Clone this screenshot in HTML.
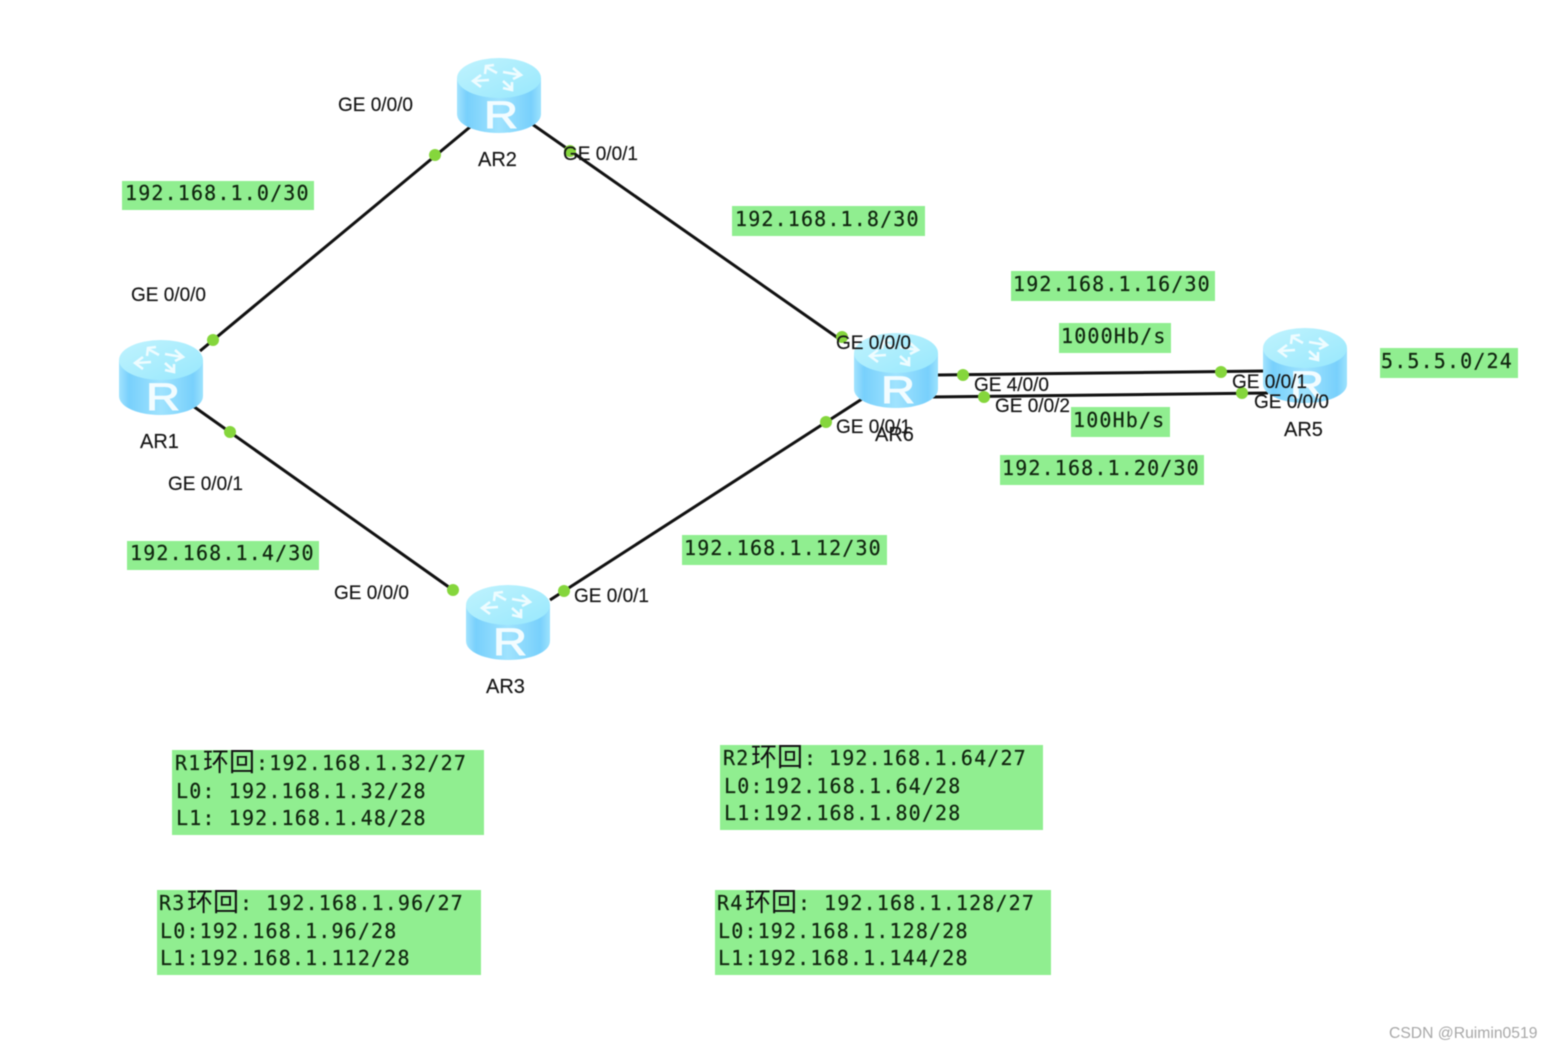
<!DOCTYPE html>
<html><head><meta charset="utf-8">
<style>
html,body{margin:0;padding:0;background:#fff;width:1552px;height:1048px;overflow:hidden}
svg{display:block;filter:blur(.45px)}
.m{font-family:"DejaVu Sans Mono","Liberation Mono",monospace;font-size:20px;letter-spacing:1.15px;fill:#10250f;stroke:#10250f;stroke-width:.2px}
.c{font-family:"Liberation Sans","Noto Sans CJK SC",sans-serif;font-size:26px;font-weight:400;fill:#111}
.l{font-family:"Liberation Sans",Arial,sans-serif;font-size:19px;fill:#151515;stroke:#151515;stroke-width:.15px}
.a{font-family:"Liberation Sans",Arial,sans-serif;font-size:20px;fill:#151515;stroke:#151515;stroke-width:.15px}
.r{font-family:"Liberation Sans",Arial,sans-serif;font-size:38px;fill:#f2fcff;stroke:#f2fcff;stroke-width:1px}
</style></head><body>
<svg width="1552" height="1048" viewBox="0 0 1552 1048" xmlns="http://www.w3.org/2000/svg">
<defs>
<linearGradient id="b" x1="0" x2="1" y1="0" y2="0">
<stop offset="0" stop-color="#a2e4fe"/><stop offset=".12" stop-color="#78d0fc"/><stop offset=".5" stop-color="#a0e3fe"/><stop offset=".88" stop-color="#78d0fc"/><stop offset="1" stop-color="#9ce2fd"/>
</linearGradient>
<linearGradient id="t" x1="0" x2="1" y1="0" y2="1">
<stop offset="0" stop-color="#c0f3fe"/><stop offset="1" stop-color="#98e8fd"/>
</linearGradient>
<g id="router">
<path d="M0 20V56C0 67 19 75 42 75S84 67 84 56V20Z" fill="url(#b)"/>
<ellipse cx="42" cy="20" rx="42" ry="20" fill="url(#t)"/>
<g fill="none" stroke="#eefcff" stroke-width="2.6">
<path d="M40 15L29 9M28 16L29 8 37 7"/>
<path d="M46 14L63 17M56 10L64 17 56 21"/>
<path d="M32 22L17 23M24 17L16 23 24 29"/>
<path d="M46 23L55 31M46 30L55 32 55 24"/>
</g>
</g>
</defs>

<g stroke="#111" stroke-width="3" fill="none">
<line x1="200" y1="351" x2="470" y2="127"/>
<line x1="532" y1="124" x2="838" y2="338"/>
<line x1="193" y1="406" x2="453" y2="590"/>
<line x1="550" y1="600" x2="862" y2="399"/>
<line x1="937" y1="375" x2="1265" y2="371"/>
<line x1="930" y1="397" x2="1268" y2="393"/>
</g>

<use href="#router" x="119" y="340"/>
<use href="#router" x="457" y="58"/>
<use href="#router" x="466" y="585"/>
<use href="#router" x="854" y="333"/>
<use href="#router" x="1263" y="328"/>
<text class="r" x="146" y="410" textLength="34" lengthAdjust="spacingAndGlyphs">R</text>
<text class="r" x="484" y="128" textLength="34" lengthAdjust="spacingAndGlyphs">R</text>
<text class="r" x="493" y="655" textLength="34" lengthAdjust="spacingAndGlyphs">R</text>
<text class="r" x="881" y="403" textLength="34" lengthAdjust="spacingAndGlyphs">R</text>
<text class="r" x="1290" y="398" textLength="34" lengthAdjust="spacingAndGlyphs">R</text>

<g fill="#85d63c">
<circle cx="213" cy="340" r="6"/><circle cx="435" cy="155" r="6"/>
<circle cx="570" cy="151" r="6"/><circle cx="842" cy="337" r="6"/>
<circle cx="230" cy="432" r="6"/><circle cx="453" cy="590" r="6"/>
<circle cx="564" cy="591" r="6"/><circle cx="826" cy="422" r="6"/>
<circle cx="963" cy="375" r="6"/><circle cx="1221" cy="372" r="6"/>
<circle cx="984" cy="397" r="6"/><circle cx="1242" cy="393" r="6"/>
</g>

<g>
<text class="l" x="338" y="111">GE 0/0/0</text>
<text class="l" x="563" y="160">GE 0/0/1</text>
<text class="l" x="131" y="301">GE 0/0/0</text>
<text class="l" x="168" y="490">GE 0/0/1</text>
<text class="l" x="334" y="599">GE 0/0/0</text>
<text class="l" x="574" y="602">GE 0/0/1</text>
<text class="l" x="836" y="349">GE 0/0/0</text>
<text class="l" x="836" y="433">GE 0/0/1</text>
<text class="l" x="974" y="391">GE 4/0/0</text>
<text class="l" x="995" y="412">GE 0/0/2</text>
<text class="l" x="1232" y="388">GE 0/0/1</text>
<text class="l" x="1254" y="408">GE 0/0/0</text>
<text class="a" x="140" y="448">AR1</text>
<text class="a" x="478" y="166">AR2</text>
<text class="a" x="486" y="693">AR3</text>
<text class="a" x="875" y="441">AR6</text>
<text class="a" x="1284" y="436">AR5</text>
</g>

<g fill="#90ee90">
<rect x="122" y="181" width="192" height="29"/>
<rect x="732" y="206" width="193" height="30"/>
<rect x="1011" y="271" width="204" height="30"/>
<rect x="1059" y="323" width="112" height="30"/>
<rect x="1380" y="348" width="138" height="30"/>
<rect x="1071" y="407" width="99" height="30"/>
<rect x="1000" y="455" width="204" height="30"/>
<rect x="682" y="535" width="205" height="30"/>
<rect x="127" y="541" width="192" height="29"/>
<rect x="172" y="750" width="312" height="85"/>
<rect x="720" y="745" width="323" height="85"/>
<rect x="157" y="890" width="324" height="85"/>
<rect x="715" y="890" width="336" height="85"/>
</g>

<text class="m" x="125" y="200">192.168.1.0/30</text>
<text class="m" x="735" y="226">192.168.1.8/30</text>
<text class="m" x="1013" y="291">192.168.1.16/30</text>
<text class="m" x="1061" y="343">1000Hb/s</text>
<text class="m" x="1381" y="368">5.5.5.0/24</text>
<text class="m" x="1073" y="427">100Hb/s</text>
<text class="m" x="1002" y="475">192.168.1.20/30</text>
<text class="m" x="684" y="555">192.168.1.12/30</text>
<text class="m" x="130" y="560">192.168.1.4/30</text>

<text class="m" x="175" y="770">R1</text><text class="c" x="203" y="771">环回</text><text class="m" x="256" y="770">:192.168.1.32/27</text>
<text class="m" x="176" y="798">L0: 192.168.1.32/28</text>
<text class="m" x="176" y="825">L1: 192.168.1.48/28</text>

<text class="m" x="723" y="765">R2</text><text class="c" x="751" y="766">环回</text><text class="m" x="804" y="765">:</text><text class="m" x="829" y="765">192.168.1.64/27</text>
<text class="m" x="724" y="793">L0:192.168.1.64/28</text>
<text class="m" x="724" y="820">L1:192.168.1.80/28</text>

<text class="m" x="159" y="910">R3</text><text class="c" x="187" y="911">环回</text><text class="m" x="240" y="910">:</text><text class="m" x="266" y="910">192.168.1.96/27</text>
<text class="m" x="160" y="938">L0:192.168.1.96/28</text>
<text class="m" x="160" y="965">L1:192.168.1.112/28</text>

<text class="m" x="717" y="910">R4</text><text class="c" x="745" y="911">环回</text><text class="m" x="798" y="910">:</text><text class="m" x="824" y="910">192.168.1.128/27</text>
<text class="m" x="718" y="938">L0:192.168.1.128/28</text>
<text class="m" x="718" y="965">L1:192.168.1.144/28</text>

<text x="1389" y="1038" font-family="'Liberation Sans',Arial,sans-serif" font-size="15.7" fill="#a8a8a8">CSDN @Ruimin0519</text>
</svg>
</body></html>
